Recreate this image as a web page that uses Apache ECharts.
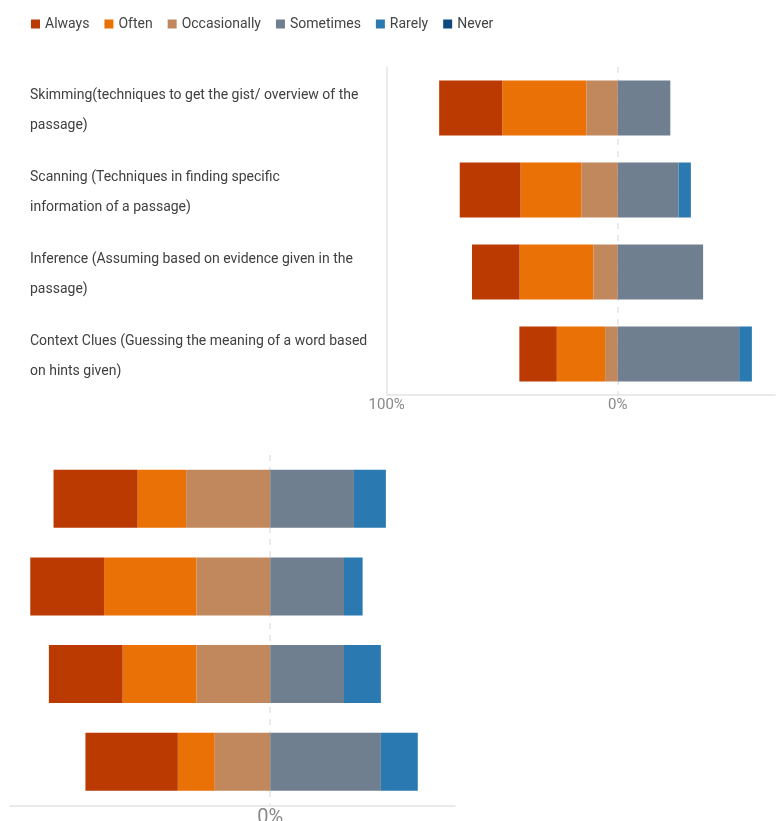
<!DOCTYPE html>
<html>
<head>
<meta charset="utf-8">
<script src="https://cdn.jsdelivr.net/npm/echarts@6/dist/echarts.min.js"></script>
<style>html,body{margin:0;padding:0;background:#fff}#c{width:776px;height:821px}</style>
</head>
<body>
<div id="c"></div>
<script>
// ---- data ----
const seriesNames = ['Always', 'Often', 'Occasionally', 'Sometimes', 'Rarely', 'Never'];
const categories = [
  'Skimming(techniques to get the gist/ overview of the\npassage)',
  'Scanning (Techniques in finding specific\ninformation of a passage)',
  'Inference (Assuming based on evidence given in the\npassage)',
  'Context Clues (Guessing the meaning of a word based\non hints given)'
];
// top chart (percent)
const always1 = [27.3, 26.3, 20.6, 16.2];
const often1 = [36.4, 26.3, 31.9, 20.9];
const occasionally1 = [13.6, 15.8, 10.6, 5.5];
const sometimes1 = [22.7, 26.3, 36.9, 52.5];
const rarely1 = [0, 5.3, 0, 5.5];
const never1 = [0, 0, 0, 0];
// bottom chart (percent)
const always2 = [25.3, 22.2, 22.2, 27.8];
const often2 = [14.6, 27.8, 22.2, 11.1];
const occasionally2 = [25.3, 22.2, 22.2, 16.7];
const sometimes2 = [25.2, 22.2, 22.2, 33.3];
const rarely2 = [9.6, 5.6, 11.1, 11.1];
const never2 = [0, 0, 0, 0];
const topTickLabels = {'-100': '100%', '0': '0%'};
const bottomTickLabels = {'0': '0%'};

const colors = {
  Always: '#BA3A02', Often: '#EA7106', Occasionally: '#C1885D',
  Sometimes: '#707F8F', Rarely: '#2B79B1', Never: '#0E4A82'
};
const FONT = "Roboto, sans-serif";

function mk(name, values, idx, neg, stack, bw, withMark) {
  const s = {
    name: name, type: 'bar', stack: stack,
    xAxisIndex: idx, yAxisIndex: idx,
    barWidth: bw,
    itemStyle: { color: colors[name] },
    data: values.map(v => neg ? -v : v),
    emphasis: { disabled: true }
  };
  if (withMark) {
    s.markLine = {
      silent: true, symbol: 'none', z: 1,
      label: { show: false },
      lineStyle: { type: [6, 6], color: '#e3e3e3', width: 1.5 },
      data: [{ xAxis: 0 }]
    };
  }
  return s;
}

const chart = echarts.init(document.getElementById('c'));
chart.setOption({
  animation: false,
  textStyle: { fontFamily: FONT },
  legend: {
    data: seriesNames, left: 26, top: 12,
    icon: 'rect', itemWidth: 9, itemHeight: 9, itemGap: 15,
    textStyle: { fontSize: 14, color: '#444', fontFamily: FONT }
  },
  grid: [
    { left: 386.7, right: 1, top: 67, bottom: 426, outerBoundsMode: 'none', containLabel: false },
    { left: 10, right: 321, top: 455, bottom: 15.5, outerBoundsMode: 'none', containLabel: false },
    { left: 386.7, right: 1, top: 69.5, bottom: 423.5, outerBoundsMode: 'none', containLabel: false }
  ],
  xAxis: [
    { type: 'value', gridIndex: 0, min: -100, max: 68, interval: 100,
      axisLine: { show: true, lineStyle: { color: '#e3e3e3', width: 1.5 } },
      axisTick: { show: false }, splitLine: { show: false },
      axisLabel: { fontSize: 15, color: '#888', margin: 3, fontFamily: FONT,
        showMaxLabel: false,
        formatter: v => topTickLabels[String(Math.round(v))] || '' } },
    { type: 'value', gridIndex: 1, min: -78.3, max: 55.6,
      axisLine: { show: true, lineStyle: { color: '#e3e3e3', width: 1.5 } },
      axisTick: { show: false }, splitLine: { show: false },
      axisLabel: { fontSize: 20, color: '#888', margin: 2, fontFamily: FONT,
        showMinLabel: false, showMaxLabel: false,
        formatter: v => bottomTickLabels[String(Math.round(v * 1000) / 1000)] || '' } },
    { type: 'value', gridIndex: 2, min: -100, max: 68, show: false }
  ],
  yAxis: [
    { type: 'category', gridIndex: 0, data: categories, inverse: true,
      axisLine: { show: true, onZero: false, lineStyle: { color: '#e6e6e6', width: 1.5 } },
      axisTick: { show: false }, axisLabel: { show: false } },
    { type: 'category', gridIndex: 1, data: categories, inverse: true,
      axisLine: { show: false, onZero: false }, axisTick: { show: false },
      axisLabel: { show: false } },
    { type: 'category', gridIndex: 2, data: categories, inverse: true,
      axisLine: { show: false, onZero: false }, axisTick: { show: false },
      splitLine: { show: false },
      axisLabel: { align: 'left', margin: 356.7, fontSize: 14, lineHeight: 30,
        color: '#404040', fontFamily: FONT } }
  ],
  series: [
    mk('Occasionally', occasionally1, 0, true, 't', 55, true),
    mk('Often', often1, 0, true, 't', 55),
    mk('Always', always1, 0, true, 't', 55),
    mk('Sometimes', sometimes1, 0, false, 't', 55),
    mk('Rarely', rarely1, 0, false, 't', 55),
    mk('Never', never1, 0, false, 't', 55),
    mk('Occasionally', occasionally2, 1, true, 'b', 58, true),
    mk('Often', often2, 1, true, 'b', 58),
    mk('Always', always2, 1, true, 'b', 58),
    mk('Sometimes', sometimes2, 1, false, 'b', 58),
    mk('Rarely', rarely2, 1, false, 'b', 58),
    mk('Never', never2, 1, false, 'b', 58)
  ]
});
</script>
</body>
</html>
